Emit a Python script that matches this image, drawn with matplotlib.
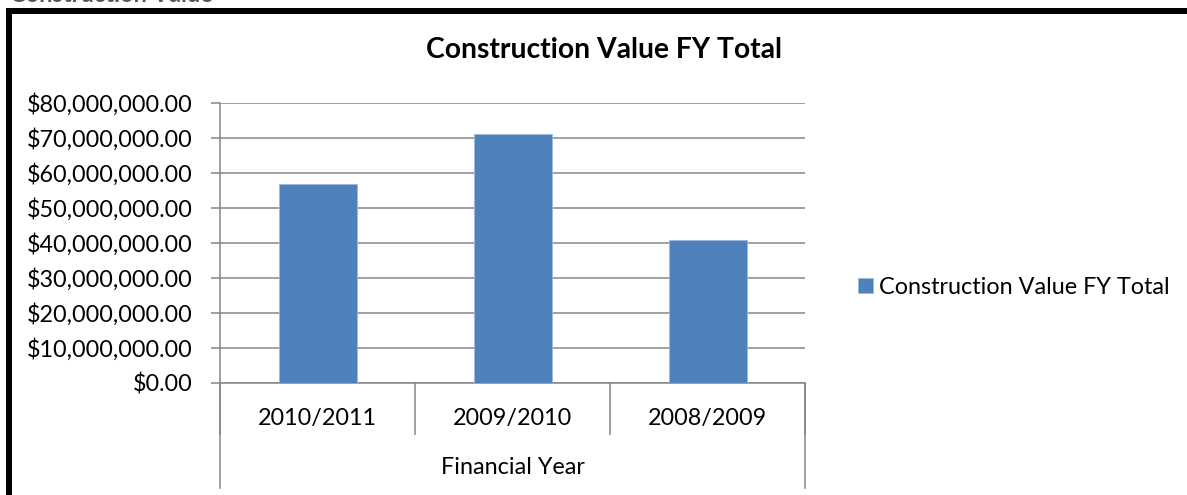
import matplotlib.pyplot as plt
from matplotlib.patches import Rectangle
from matplotlib.ticker import FuncFormatter

# chart data
years = ['2010/2011', '2009/2010', '2008/2009']
values = [56.9e6, 71.05e6, 40.95e6]
y_ticks = [i * 10e6 for i in range(9)]
series_name = 'Construction Value FY Total'
axis_group = 'Financial Year'

plt.rcParams['font.family'] = ['Lato', 'DejaVu Sans']
grey = '#868686'
fs = 16.8

fig = plt.figure(figsize=(11.87, 4.95), dpi=100)
W, H = 1187, 495

# axes placed in pixel terms of the reference
left, right, top, bottom = 220, 805, 103, 383
ax = fig.add_axes([left / W, 1 - bottom / H, (right - left) / W, (bottom - top) / H])

bars = ax.bar(range(len(years)), values, width=0.4, color='#4F81BD',
              edgecolor='#9DB9DD', linewidth=0.6, label=series_name, zorder=3)

ax.set_xlim(-0.5, len(years) - 0.5)
ax.set_ylim(0, 80e6)
ax.set_yticks(y_ticks)
ax.yaxis.set_major_formatter(FuncFormatter(lambda v, p: f'${v:,.2f}'))
ax.grid(axis='y', color=grey, linewidth=1.1, zorder=0)

for side in ['top', 'right']:
    ax.spines[side].set_visible(False)
for side in ['left', 'bottom']:
    ax.spines[side].set_color(grey)
    ax.spines[side].set_linewidth(1.1)

ax.tick_params(axis='y', length=6.5, color=grey, width=1.1, labelsize=fs, pad=13)

# category axis: dividers between categories
ax.set_xticks([i - 0.5 for i in range(len(years) + 1)])
ax.set_xticklabels([])
ax.tick_params(axis='x', length=37.5, color=grey, width=1.1)

trans = ax.get_xaxis_transform()
for i, yr in enumerate(years):
    ax.text(i, -0.125, yr, transform=trans, ha='center', va='center', fontsize=fs)

# outer group lines
for xv in [-0.5, len(years) - 0.5]:
    ax.plot([xv, xv], [0, -0.375], transform=trans, color=grey, linewidth=1.1, clip_on=False)
ax.text((len(years) - 1) / 2, -0.30, axis_group, transform=trans, ha='center', va='center', fontsize=fs)

fig.text(604 / W, 1 - 50 / H, series_name, ha='center', va='center',
         fontsize=20.3, fontweight='bold')

leg = fig.legend(handles=[bars], labels=[series_name], loc='center left',
                 bbox_to_anchor=(846 / W, 1 - 287 / H), frameon=False, fontsize=fs,
                 handlelength=0.65, handleheight=0.65, handletextpad=0.25, borderpad=0)

# thick frame of the surrounding box and cut-off header text
fig.patches.append(Rectangle((9 / W, -0.2), 1.2, 1.2 + (1 - 10.5 / H) - 1,
                             transform=fig.transFigure, fill=False, edgecolor='black',
                             linewidth=4.3, clip_on=False))
fig.text(10 / W, 1 - 1.5 / H, 'Construction Value', ha='left', va='baseline',
         fontsize=17, fontweight='bold', color='#555555')

fig.savefig('out.png', dpi=100)
